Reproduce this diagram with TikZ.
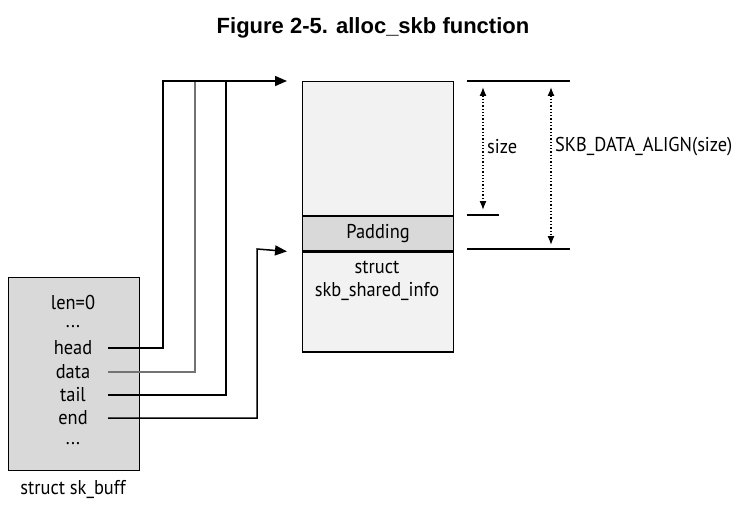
\documentclass[tikz,border=0pt]{standalone}
\usepackage{fontspec}
\setmainfont{PT Sans}[FakeStretch=0.92]
\newfontfamily\titlefont{Liberation Sans}
\usetikzlibrary{arrows.meta}
\tikzset{
  field/.style={font=\fontsize{20}{23}\selectfont, inner sep=0pt},
  cell/.style={draw, line width=1.2pt, inner sep=0pt, minimum width=151pt},
  ptr/.style={line width=1.5pt, -{Triangle[length=12pt,width=10pt]}},
  ptr line/.style={line width=1.5pt},
  tick/.style={line width=2pt},
  dim/.style={dotted, line width=1.3pt, {Latex[length=9pt,width=7pt]}-{Latex[length=9pt,width=7pt]}},
}
\begin{document}
\begin{tikzpicture}[x=1pt,y=-1pt]
\useasboundingbox (0,0) rectangle (748,511);
\node (title) at (373,28) {\titlefont\bfseries\fontsize{22}{24}\selectfont Figure 2-5. alloc\_skb function};
% struct sk_buff
\node (skb) [draw, line width=1.2pt, fill=gray!30, inner sep=0pt, minimum width=131pt, minimum height=193pt, anchor=north west] at (8,277) {};
\node[field] (len) at (73,302) {len=0};
\node[field] (dots1) at (73,327) {...};
\node[field] (head) at (73,348) {head};
\node[field] (data) at (73,372) {data};
\node[field] (tail) at (73,395) {tail};
\node[field] (end) at (73,418) {end};
\node[field] (dots2) at (73,444) {...};
\node[field] (skblbl) at (73,489) {struct sk\_buff};
% data buffer
\node[cell, fill=gray!10, minimum height=134pt, anchor=north west] (area) at (302,81) {};
\node[cell, fill=gray!30, minimum height=34pt, anchor=north, field] (pad) at (area.south) {Padding};
\node[cell, fill=gray!10, minimum height=100pt, anchor=north] (shinfo) at (pad.south) {};
\node[field, align=center] (shlbl) at (377,281) {struct\\skb\_shared\_info};
% pointers
\coordinate (src) at (108,0);
\draw[ptr line, black!55] (data -| src) -| (195,81);
\draw[ptr line] (tail -| src) -| (226,81);
\draw[ptr] (head -| src) -| (163,81) -- ([xshift=-15pt]area.north west);
\draw[ptr] (end -| src) -| (257,249) -- ([xshift=-15pt]shinfo.north west);
% sizes
\draw[tick] (467,81) -- (570,81);
\draw[tick] (467,215) -- (499,215);
\draw[tick] (467,249) -- (570,249);
\draw[dim] (483,87) -- (483,210);
\draw[dim] (551,87) -- (551,245);
\node[field, anchor=west] (sizelbl) at (487,147) {size};
\node[field, anchor=west] (alignlbl) at (555,147) {SKB\_DATA\_ALIGN(size)};
\end{tikzpicture}
\end{document}
